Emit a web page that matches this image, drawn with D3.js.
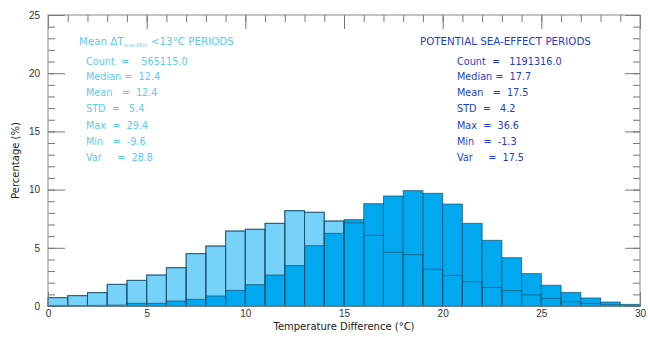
<!DOCTYPE html>
<html>
<head>
<meta charset="utf-8">
<script src="https://cdn.jsdelivr.net/npm/d3@7"></script>
<style>
  body { margin: 0; background: #fff; }
  svg { display: block; font-family: "DejaVu Sans", sans-serif; }
  .stats text { white-space: pre; }
</style>
</head>
<body>
<div id="chart"></div>
<script>
// bin start (°C), each bin is 1 °C wide
const binStarts = [0,1,2,3,4,5,6,7,8,9,10,11,12,13,14,15,16,17,18,19,20,21,22,23,24,25,26,27,28,29];
// Mean dT < 13 °C periods (%)
const coldValues = [0.72,0.89,1.15,1.86,2.2,2.66,3.29,4.5,5.15,6.44,6.59,7.1,8.19,8.05,7.3,7.15,6.07,4.61,4.41,3.15,2.63,2.09,1.6,1.32,0.95,0.66,0.37,0.22,0.1,0.05];
// potential sea-effect periods (%)
const seaValues = [0.02,0.03,0.05,0.08,0.23,0.23,0.43,0.57,0.86,1.35,1.83,2.66,3.47,5.18,6.24,7.42,8.79,9.45,9.91,9.68,8.76,7.1,5.64,4.15,2.78,1.78,1.17,0.69,0.34,0.14];

const xTicks = [0,5,10,15,20,25,30];
const yTicks = [0,5,10,15,20,25];

const coldStats = ["Count  =    565115.0", "Median =  12.4", "Mean   =  12.4", "STD  =   5.4", "Max  =  29.4", "Min   =  -9.6", "Var     =  28.8"];
const seaStats = ["Count  =   1191316.0", "Median =  17.7", "Mean   =  17.5", "STD  =   4.2", "Max  =  36.6", "Min   =  -1.3", "Var     =  17.5"];

const W = 648, H = 337;
const margin = {left: 48, right: 8, top: 15, bottom: 31};
const colLight = "#76d2f8", colDark = "#00a8ef", edge = "#1a5573";

const svg = d3.select("#chart").append("svg").attr("width", W).attr("height", H);

const x = d3.scaleLinear().domain([0, 30]).range([margin.left, W - margin.right]);
const y = d3.scaleLinear().domain([0, 25]).range([H - margin.bottom, margin.top]);

// axes: major + minor ticks on all four sides, pointing inward
function styleAxis(g, showLabels) {
    g.select(".domain").remove();
    g.selectAll(".tick line").attr("stroke", "#777");
    g.selectAll("text").attr("fill", "#333").style("font-size", "10px");
    if (!showLabels) g.selectAll("text").remove();
}
const minorX = d3.range(0, 31), minorY = d3.range(0, 26);

svg.append("g").attr("transform", `translate(0,${y(0)})`)
    .call(d3.axisBottom(x).tickValues(xTicks).tickSize(-14).tickPadding(4).tickFormat(d3.format("d")))
    .call(g => styleAxis(g, true));
svg.append("g").attr("transform", `translate(0,${y(25)})`)
    .call(d3.axisTop(x).tickValues(xTicks).tickSize(-14).tickFormat(""))
    .call(g => styleAxis(g, false));
svg.append("g").attr("transform", `translate(0,${y(25)})`)
    .call(d3.axisTop(x).tickValues(minorX).tickSize(-7).tickFormat(""))
    .call(g => styleAxis(g, false));
svg.append("g").attr("transform", `translate(${x(0)},0)`)
    .call(d3.axisLeft(y).tickValues(yTicks).tickSize(-17).tickPadding(8).tickFormat(d3.format("d")))
    .call(g => styleAxis(g, true));
svg.append("g").attr("transform", `translate(${x(0)},0)`)
    .call(d3.axisLeft(y).tickValues(minorY).tickSize(-7).tickFormat(""))
    .call(g => styleAxis(g, false));
svg.append("g").attr("transform", `translate(${x(30)},0)`)
    .call(d3.axisRight(y).tickValues(yTicks).tickSize(-15).tickFormat(""))
    .call(g => styleAxis(g, false));
svg.append("g").attr("transform", `translate(${x(30)},0)`)
    .call(d3.axisRight(y).tickValues(minorY).tickSize(-7).tickFormat(""))
    .call(g => styleAxis(g, false));

// bars
const bars = svg.append("g");
function drawBars(values, fill, cls) {
    bars.selectAll("." + cls)
        .data(binStarts.map((b, i) => ({b, v: values[i]})))
        .join("rect")
        .attr("class", cls)
        .attr("x", d => x(d.b))
        .attr("width", d => x(d.b + 1) - x(d.b))
        .attr("y", d => y(d.v))
        .attr("height", d => y(0) - y(d.v))
        .attr("fill", fill)
        .attr("stroke", edge)
        .attr("stroke-opacity", 0.75)
        .attr("stroke-width", 1);
}
drawBars(coldValues, colLight, "cold");
drawBars(seaValues, colDark, "sea");
// outline of the cold bars shows through the sea-effect bars
drawBars(coldValues, "none", "coldEdge");

// frame
svg.append("rect")
    .attr("x", x(0)).attr("y", y(25))
    .attr("width", x(30) - x(0)).attr("height", y(0) - y(25))
    .attr("fill", "none").attr("stroke", "#888").attr("stroke-width", 1);

// axis titles
svg.append("text")
    .attr("x", (x(0) + x(30)) / 2).attr("y", 330)
    .attr("text-anchor", "middle")
    .style("font-size", "10px").attr("fill", "#222")
    .text("Temperature Difference (°C)");
svg.append("text")
    .attr("transform", `translate(19,${y(12.5)}) rotate(-90)`)
    .attr("text-anchor", "middle")
    .style("font-size", "10px").attr("fill", "#222")
    .text("Percentage (%)");

// stats boxes
const rowY = [62, 77, 93, 109, 126, 142, 158];
const left = svg.append("g").attr("class", "stats").attr("fill", "#5ccbf0").style("font-size", "9.7px");
const t1 = left.append("text").attr("x", 79).attr("y", 45).style("font-size", "10.3px");
t1.append("tspan").text("Mean ΔT");
t1.append("tspan").attr("dy", 2).style("font-size", "5px").text("(sea-850)");
t1.append("tspan").attr("dy", -2).text(" <13°C PERIODS");
left.selectAll(".row").data(coldStats).join("text")
    .attr("class", "row").attr("x", 86).attr("y", (d, i) => rowY[i] + 3).text(d => d);

const right = svg.append("g").attr("class", "stats").attr("fill", "#1d3fcc").style("font-size", "9.7px");
right.append("text").attr("x", 420).attr("y", 45).style("font-size", "10.3px").text("POTENTIAL SEA-EFFECT PERIODS");
right.selectAll(".row").data(seaStats).join("text")
    .attr("class", "row").attr("x", 457).attr("y", (d, i) => rowY[i] + 3).text(d => d);
</script>
</body>
</html>
